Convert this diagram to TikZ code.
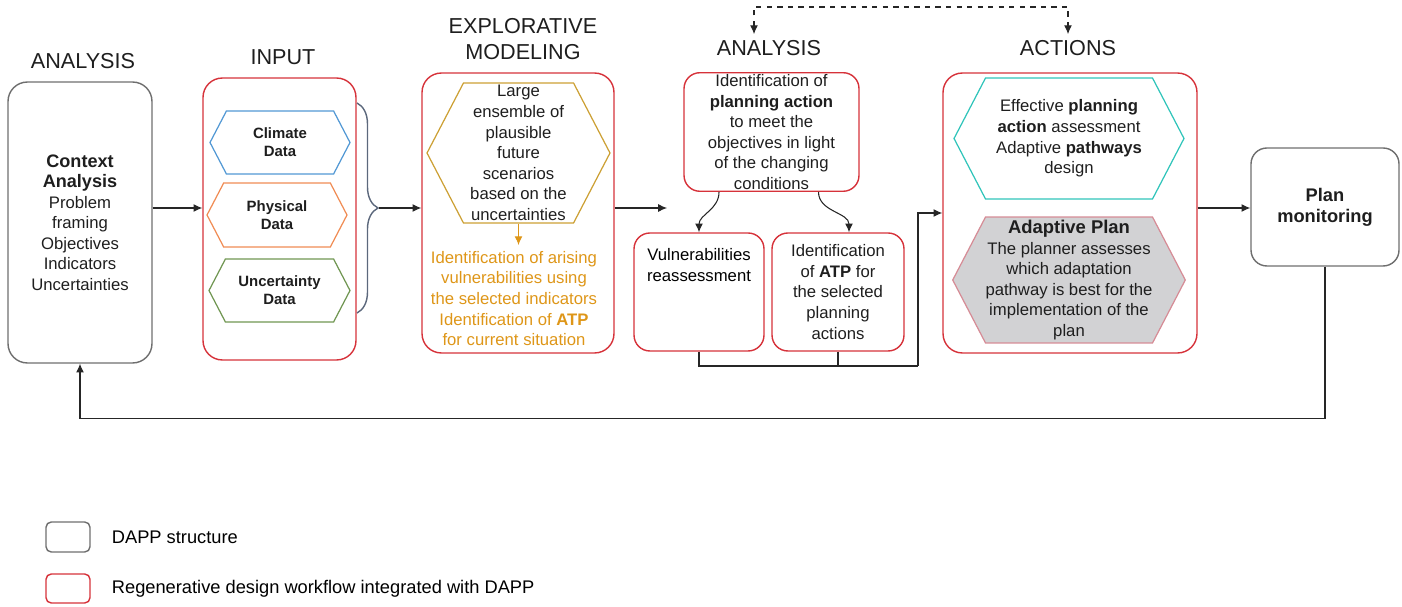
\documentclass[tikz,border=0pt]{standalone}
\usepackage{fontspec}
\setmainfont{Liberation Sans}
\usetikzlibrary{arrows.meta, positioning, shapes.symbols, decorations.pathreplacing, calc}
\definecolor{dappgray}{RGB}{110,110,110}
\definecolor{regred}{RGB}{214,50,58}
\definecolor{climblue}{RGB}{82,152,212}
\definecolor{physorange}{RGB}{240,140,84}
\definecolor{uncgreen}{RGB}{112,150,82}
\definecolor{scengold}{RGB}{204,160,52}
\definecolor{idorange}{RGB}{222,150,24}
\definecolor{actcyan}{RGB}{48,196,186}
\definecolor{plangray}{RGB}{210,210,212}
\definecolor{planpink}{RGB}{214,140,150}
\definecolor{bracegray}{RGB}{92,104,124}
\definecolor{inkblack}{RGB}{30,30,30}
\tikzset{%
	dapp/.style={draw=dappgray, rectangle, rounded corners=11pt, line width=0.8pt,%
		align=center, text=inkblack},
	regen/.style={draw=regred, rectangle, rounded corners=11pt, line width=0.8pt,%
		align=center, text=inkblack},
	hexa/.style={signal, signal to=west and east, signal pointer angle=125,%
		line width=0.7pt, inner sep=0pt, align=center, text=inkblack},
	title/.style={font=\fontsize{12.3}{14.8}\selectfont, align=center, text=inkblack},
	txt/.style={font=\fontsize{9.5}{11.7}\selectfont},
	datatxt/.style={font=\bfseries\fontsize{8.5}{10.2}\selectfont},
	legtxt/.style={font=\fontsize{10.4}{12}\selectfont},
	conn/.style={-{Latex[length=5pt, width=4.5pt]}, draw=black!85, line width=0.6pt}
}

\begin{document}
\begin{tikzpicture}[x=0.02cm, y=-0.02cm]
	\useasboundingbox (0,0) rectangle (1402,607);
	\coordinate (axis) at (0,208);
	% titles
	\node[title] (tanalysis)  at (83,61)   {ANALYSIS};
	\node[title] (tinput)     at (283,57)  {INPUT};
	\node[title] (texplor)    at (523,39)  {EXPLORATIVE\\MODELING};
	\node[title] (tanalysis2) at (769,48)  {ANALYSIS};
	\node[title] (tactions)   at (1068,48) {ACTIONS};

	% analysis
	\node[dapp, txt, minimum width=2.88cm, minimum height=5.62cm] (context) at (80,222.5)
		{{\bfseries\fontsize{10.3}{11.7}\selectfont Context}\\{\bfseries\fontsize{10.3}{11.7}\selectfont Analysis}\\%
		Problem\\framing\\Objectives\\Indicators\\Uncertainties};

	% input
	\node[regen, minimum width=3.06cm, minimum height=5.64cm] (input) at (279.5,219) {};
	\node[hexa, datatxt, draw=climblue, minimum width=2.8cm, minimum height=1.26cm]
		(climate) at (280,142.5) {Climate\\Data};
	\node[hexa, datatxt, draw=physorange, minimum width=2.8cm, minimum height=1.28cm]
		(physical) at (277,215) {Physical\\Data};
	\node[hexa, datatxt, draw=uncgreen, minimum width=2.82cm, minimum height=1.26cm]
		(uncert) at (279.5,290.5) {Uncertainty\\Data};
	\draw[draw=bracegray, line width=0.8pt, decorate, decoration={brace, amplitude=0.42cm}]
		(357,103) -- (357,313);
	\coordinate (bracetip) at (379,208);

	% explorative modeling
	\node[regen, minimum width=3.84cm, minimum height=5.6cm] (explor) at (518,213) {};
	\node[hexa, txt, draw=scengold, minimum width=3.66cm, minimum height=2.8cm] (scen) at (518.5,153)
		{Large\\ensemble of\\plausible\\future\\scenarios\\based on the\\uncertainties};
	\node[txt, text=idorange, align=center] (idarise) at (514,298.5)
		{Identification of arising\\vulnerabilities using\\the selected indicators\\Identification of \textbf{ATP}\\for current situation};
	\draw[conn, draw=idorange, -{Latex[length=5pt, width=4.5pt, fill=idorange]}] (scen.south) -- (scen.south |- idarise.north);

	% analysis of actions
	\node[regen, txt, inner sep=1pt, rounded corners=9pt, minimum width=3.5cm, minimum height=2.36cm]
		(plan) at (771.5,132)
		{Identification of\\\textbf{planning action}\\to meet the\\objectives in light\\of the changing\\conditions};
	\node[regen, rounded corners=9pt, minimum width=2.6cm, minimum height=2.36cm] (vuln) at (699,292) {};
	\node[txt, align=center, below=0.2cm of vuln.north] (vulntxt) {Vulnerabilities\\reassessment};
	\node[regen, txt, rounded corners=9pt, minimum width=2.64cm, minimum height=2.36cm] (atp) at (838,292)
		{Identification\\of \textbf{ATP} for\\the selected\\planning\\actions};
	\coordinate (anain) at (667,208);
	\coordinate (joint) at (918,366);

	% actions
	\node[regen, minimum width=5.08cm, minimum height=5.6cm] (actions) at (1070,213) {};
	\node[hexa, txt, draw=actcyan, minimum width=4.6cm, minimum height=2.42cm] (effective) at (1069,138.5)
		{Effective \textbf{planning}\\\textbf{action} assessment\\Adaptive \textbf{pathways}\\design};
	\node[hexa, txt, draw=planpink, fill=plangray, minimum width=4.6cm, minimum height=2.52cm]
		(adaptive) at (1069,280)
		{{\bfseries\fontsize{10.5}{12}\selectfont Adaptive Plan}\\The planner assesses\\which adaptation\\pathway is best for the\\implementation of the\\plan};

	% monitoring
	\node[dapp, font=\bfseries\fontsize{10.4}{12}\selectfont, rounded corners=9pt,%
		minimum width=2.96cm, minimum height=2.36cm] (monitor) at (1325,207) {Plan\\monitoring};

	% connectors
	\draw[conn] (context.east |- axis) -- (input.west |- axis);
	\draw[conn] (bracetip) -- (explor.west |- axis);
	\draw[conn] (explor.east |- axis) -- (anain);
	\draw[conn] ([xshift=-1.05cm]plan.south) to[out=-90, in=90] (vuln.north);
	\draw[conn] ([xshift=0.94cm]plan.south) to[out=-90, in=90] ([xshift=0.22cm]atp.north);
	\draw[conn, -] (vuln.south) |- (joint);
	\draw[conn, -] (atp.south) -- (atp.south |- joint);
	\draw[conn] (joint) |- (actions.west);
	\draw[conn] (actions.east |- axis) -- (monitor.west |- axis);
	\draw[conn] (monitor.south) |- ([yshift=-1.1cm]context.south) -- (context.south);
	\coordinate (dashtop) at (900,7);
	\draw[conn, {Latex[length=5pt, width=4.5pt]}-{Latex[length=5pt, width=4.5pt]}, dashed]
		([xshift=-0.3cm]tanalysis2.north) |- (dashtop) -| (tactions.north);

	% legend
	\node[dapp, rounded corners=3pt, minimum width=0.88cm, minimum height=0.6cm] (legdapp) at (68,537) {};
	\node[legtxt, right=0.3cm of legdapp] (legdapptxt) {DAPP structure};
	\node[regen, rounded corners=3pt, minimum width=0.88cm, minimum height=0.58cm] (legregen) at (68,588.5) {};
	\node[legtxt, right=0.3cm of legregen] (legregentxt) {Regenerative design workflow integrated with DAPP};
\end{tikzpicture}
\end{document}
